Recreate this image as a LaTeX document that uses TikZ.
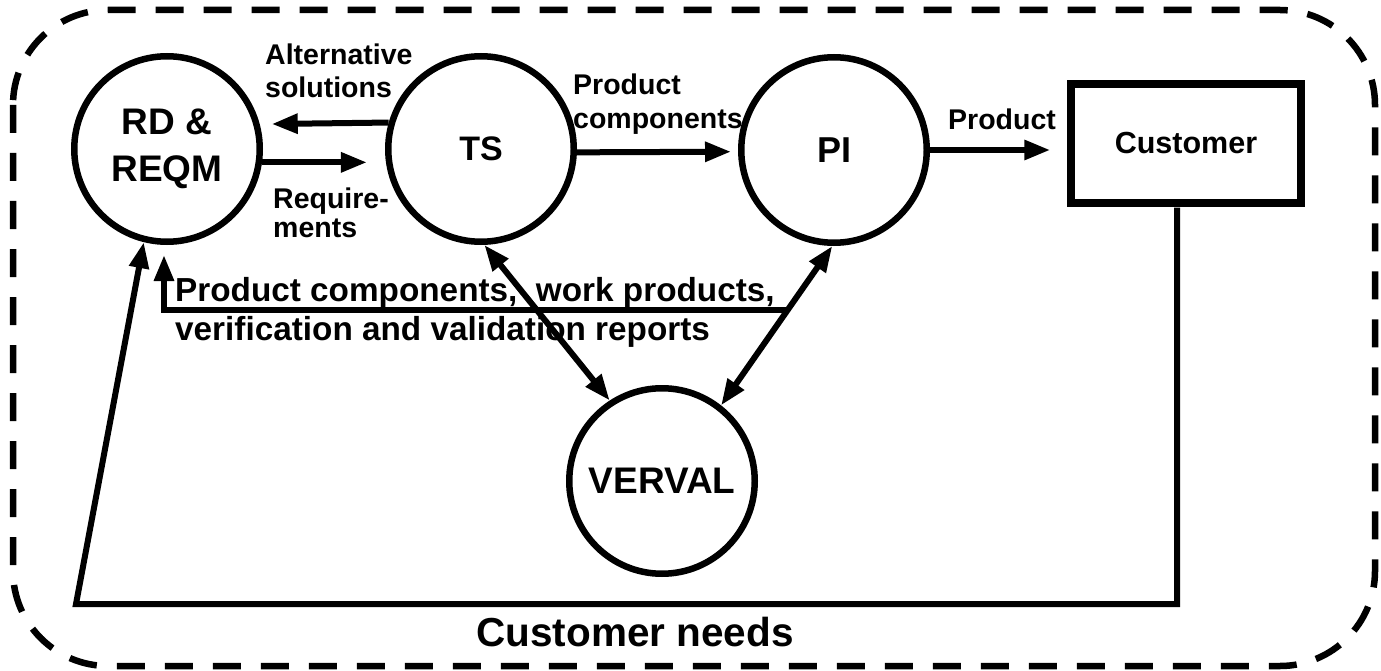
\documentclass[tikz,border=0pt]{standalone}
\usepackage{fontspec}
\setmainfont{Liberation Sans}
\usetikzlibrary{arrows.meta,calc}
\begin{document}
\begin{tikzpicture}[x=1pt,y=-1pt,
  proc/.style={circle,draw,line width=6.5pt,minimum size=185.5pt,inner sep=0pt,align=center},
  lbl/.style={font=\fontsize{28.5}{33}\selectfont\bfseries,inner sep=0pt,anchor=base west},
  fbl/.style={font=\fontsize{33.3}{38}\selectfont\bfseries,inner sep=0pt,anchor=base west},
  arr/.style={line width=6pt,-{Triangle[length=26pt,width=19pt]}},
  dbl/.style={line width=6pt,{Triangle[length=26pt,width=19pt]}-{Triangle[length=26pt,width=19pt]}},
  border/.style={line width=6.5pt,dash pattern=on 28pt off 20pt,rounded corners=95pt}
]
\useasboundingbox (0,0) rectangle (1381,671);
\draw[border] (13,10) rectangle (1375,666);

% process nodes
\node[proc,font=\fontsize{37}{47}\selectfont\bfseries] (rd) at (167,149) {RD \&\\REQM};
\node[proc,font=\fontsize{34}{40}\selectfont\bfseries] (ts) at (481,149) {TS};
\node[proc,font=\fontsize{36}{40}\selectfont\bfseries] (pi) at (834,150) {PI};
\node[proc,font=\fontsize{37}{40}\selectfont\bfseries] (verval) at (662,481) {VERVAL};
\node[draw,line width=7.5pt,minimum width=230pt,minimum height=119pt,inner sep=0pt,
      font=\fontsize{30.5}{36}\selectfont\bfseries] (cust) at (1186,143.5) {Customer};

% labels
\node[lbl] (alt1) at (265,65) {Alternative};
\node[lbl] (alt2) at (265,98) {solutions};
\node[lbl] (req1) at (273,208) {Require-};
\node[lbl] (req2) at (273,237) {ments};
\node[lbl] (pc1) at (573,95) {Product};
\node[lbl] (pc2) at (573,129) {components};
\node[lbl] (prod) at (948,130) {Product};
\node[fbl] (fb1) at (175,301) {Product components,\ \ work products,};
\node[fbl] (fb2) at (175,340) {verification and validation reports};
\node[font=\fontsize{40.5}{46}\selectfont\bfseries,inner sep=0pt,anchor=base] (cn) at (635,646) {Customer needs};

% coordinates
\coordinate (cnL) at (76,604);
\coordinate (fbR) at ($(pi.269)!0.4!(verval.52)$);
\coordinate (fbtip) at ([xshift=-3pt,yshift=-10pt]rd.south);

% connectors
\draw[arr,shorten >=12pt] (ts.164.3) -- (rd.15.7);
\draw[arr,shorten >=19pt] (rd.-8.4) -- (ts.188.4);
\draw[arr,shorten >=7pt] (ts.-2) -- (pi.181);
\draw[arr] (pi.east) -- ([xshift=-17pt]pi.east -| cust.west);
\draw[dbl] (ts.-88) -- (verval.123);
\draw[dbl] (pi.269) -- (verval.52);
\draw[arr] (fbR) -| (fbtip);
\draw[arr] ([xshift=-9pt,yshift=-1pt]cust.south) |- (cnL) -- (rd.-104.5);
\end{tikzpicture}
\end{document}
